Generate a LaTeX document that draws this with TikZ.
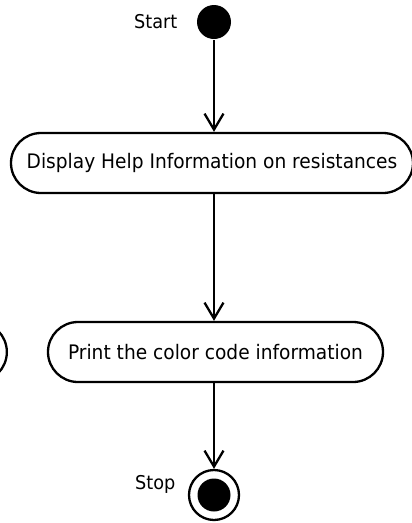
\documentclass[tikz,border=0pt]{standalone}
\usepackage{fontspec}
\setmainfont{DejaVu Sans}[FakeStretch=0.93]
\usetikzlibrary{arrows.meta,positioning}
\begin{document}
\begin{tikzpicture}[x=1pt,y=1pt,line width=2.3pt,
 act/.style={draw,rounded corners=30pt,minimum height=60pt,inner xsep=0pt,font=\fontsize{20}{24}\selectfont},
 lbl/.style={font=\fontsize{19}{23}\selectfont},
 flow/.style={-{Straight Barb[length=16pt,width=19pt]}}]
\useasboundingbox (0,0) rectangle (412,-523);
\clip (0,0) rectangle (412,-523);
\node[circle,fill=black,minimum size=34pt,inner sep=0pt] (start) at (214,-22) {};
\node[lbl,left=14pt of start] (startlbl) {Start};
\node[act,minimum width=402pt] (help) at (212,-163) {Display Help Information on resistances};
\node[act,minimum width=335pt] (print) at (215.5,-352) {Print the color code information};
\node[act,minimum width=200pt,anchor=east] (prev) at (8,-352) {};
\node[circle,draw,minimum size=50pt,inner sep=0pt] (stop) at (214,-495) {};
\node[circle,fill=black,minimum size=33pt,inner sep=0pt] (stopdot) at (stop) {};
\node[lbl,left=8pt of stop,yshift=10.5pt] (stoplbl) {Stop};
\draw[flow] (start) -- (start |- help.north);
\draw[flow] (start |- help.south) -- (start |- print.north);
\draw[flow] (start |- print.south) -- (stop);
\end{tikzpicture}
\end{document}
